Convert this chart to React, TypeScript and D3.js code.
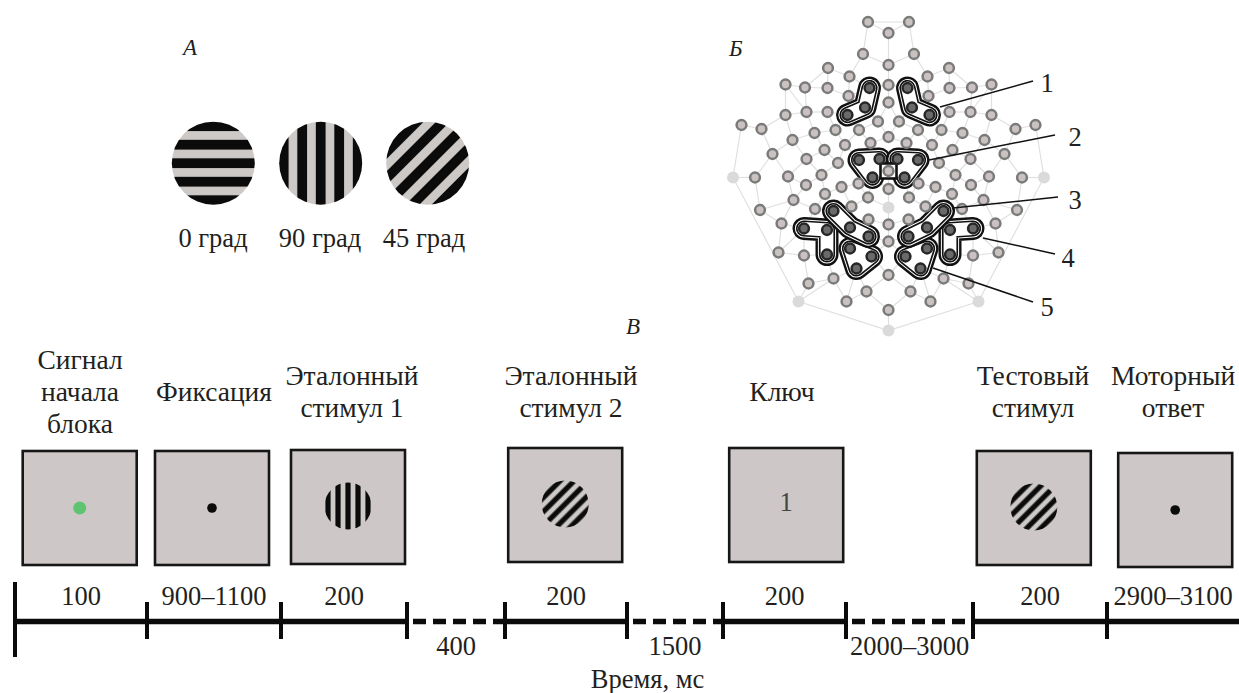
import React from 'react'
import * as d3 from 'd3'

const W = 1239
const H = 693
const FONT = 'Liberation Serif, Tinos, Times New Roman, DejaVu Serif, serif'
const INK = '#231f20'

// ---- Panel A: grating orientations
const gratingAngles = [0, 90, 45]
const gratingLabels = ['0 град', '90 град', '45 град']

// ---- Panel Б: electrode net, [dx, dy, kind] relative to the vertex electrode
// kind: n = regular, d = in ROI, l = reference/unused, s = vertex (ROI 2 centre)
const electrodesMid: [number, number, string][] = [
  [0, -174.5, 'n'], [0, -142.5, 'n'], [0, -122.5, 'n'], [0, -105, 'n'], [0, -70.5, 'n'],
  [0, -36.5, 's'], [0, -18.5, 'n'], [0, 0, 'l'], [0, 17, 'n'], [0, 34, 'n'],
  [0, 67.5, 'n'], [0, 102.5, 'n'], [0, 123, 'l'],
]
const electrodesLeft: [number, number, string][] = [
  [-20.5, -185.5, 'n'], [-25.5, -153.5, 'n'], [-60.5, -139.5, 'n'], [-39, -131, 'n'],
  [-103, -123, 'n'], [-83.5, -120, 'n'], [-61, -119.5, 'n'], [-19, -119.5, 'd'],
  [-40, -111.5, 'n'], [-103, -92.5, 'n'], [-82, -95.5, 'n'], [-61, -95.5, 'n'],
  [-23.5, -100, 'd'], [-41, -92.5, 'd'], [-10.5, -86, 'n'], [-147, -82.5, 'n'],
  [-127, -78.5, 'n'], [-74, -74.5, 'n'], [-53, -77.5, 'n'], [-29.5, -77.5, 'n'],
  [-96, -67.5, 'n'], [-116, -53.5, 'n'], [-64, -57.5, 'n'], [-43.5, -62.5, 'n'],
  [-18, -64.5, 'n'], [-82, -48.5, 'n'], [-50.5, -44.5, 'n'], [-29.5, -47.5, 'd'],
  [-9, -48.5, 'd'], [-16, -30, 'd'], [-155.5, -30, 'l'], [-133.5, -30, 'n'],
  [-100.5, -31, 'n'], [-67, -32.5, 'n'], [-47, -20.5, 'n'], [-82.5, -22.5, 'n'],
  [-30, -24, 'n'], [-63.5, -13.5, 'n'], [-20.5, -10, 'n'], [-95, -7.5, 'n'],
  [-128.5, 2.5, 'n'], [-73.5, 1.5, 'n'], [-37, -1, 'n'], [-55, 3.5, 'd'],
  [-107, 16, 'n'], [-84.5, 21, 'd'], [-61.5, 22.5, 'd'], [-38.5, 20, 'd'],
  [-20, 12, 'n'], [-20, 29, 'd'], [-110, 45, 'n'], [-84.5, 48, 'n'],
  [-61.5, 47, 'd'], [-38.5, 41, 'd'], [-17, 49, 'd'], [-32, 61, 'd'],
  [-55, 71, 'n'], [-80, 76, 'n'], [-22, 84, 'n'], [-90, 94, 'l'], [-42, 94, 'n'],
]
const electrodesRight: [number, number, string][] = [
  [20.5, -185.5, 'n'], [25.5, -153.5, 'n'], [60.5, -139.5, 'n'], [39, -131, 'n'],
  [103, -123, 'n'], [83.5, -120, 'n'], [61, -119.5, 'n'], [19, -119.5, 'd'],
  [40, -111.5, 'n'], [103, -92.5, 'n'], [82, -95.5, 'n'], [61, -95.5, 'n'],
  [23.5, -100, 'd'], [41, -92.5, 'd'], [10.5, -86, 'n'], [147, -82.5, 'n'],
  [127, -78.5, 'n'], [74, -74.5, 'n'], [53, -77.5, 'n'], [29.5, -77.5, 'n'],
  [96, -67.5, 'n'], [116, -53.5, 'n'], [64, -57.5, 'n'], [43.5, -62.5, 'n'],
  [18, -64.5, 'n'], [82, -48.5, 'n'], [50.5, -44.5, 'n'], [29.5, -47.5, 'd'],
  [9, -48.5, 'd'], [16, -30, 'd'], [155.5, -30, 'l'], [133.5, -30, 'n'],
  [100.5, -31, 'n'], [67, -32.5, 'n'], [47, -20.5, 'n'], [82.5, -22.5, 'n'],
  [30, -24, 'n'], [63.5, -13.5, 'n'], [20.5, -10, 'n'], [95, -7.5, 'n'],
  [128.5, 2.5, 'n'], [73.5, 1.5, 'n'], [37, -1, 'n'], [55, 3.5, 'd'],
  [107, 16, 'n'], [84.5, 21, 'd'], [61.5, 22.5, 'd'], [38.5, 20, 'd'],
  [20, 12, 'n'], [20, 29, 'd'], [110, 45, 'n'], [84.5, 48, 'n'],
  [61.5, 47, 'd'], [38.5, 41, 'd'], [17, 49, 'd'], [32, 61, 'd'],
  [55, 71, 'n'], [80, 76, 'n'], [22, 84, 'n'], [90, 94, 'l'], [42, 94, 'n'],
]
// outer rim of the net
const rimPoints: [number, number][] = [
  [-147, -82.5], [-155.5, -30], [-90, 94], [0, 123], [90, 94], [155.5, -30], [147, -82.5],
]
// regions of interest: electrode chains and whether the outline is closed
const rois: { pts: [number, number][]; closed: boolean }[] = [
  { pts: [[-19, -119.5], [-23.5, -100], [-41, -92.5]], closed: false },
  { pts: [[19, -119.5], [23.5, -100], [41, -92.5]], closed: false },
  { pts: [[-29.5, -47.5], [-9, -48.5], [-16, -30]], closed: true },
  { pts: [[29.5, -47.5], [9, -48.5], [16, -30]], closed: true },
  { pts: [[-84.5, 21], [-61.5, 22.5], [-61.5, 47]], closed: false },
  { pts: [[84.5, 21], [61.5, 22.5], [61.5, 47]], closed: false },
  { pts: [[-38.5, 41], [-17, 49], [-32, 61]], closed: true },
  { pts: [[38.5, 41], [17, 49], [32, 61]], closed: true },
  { pts: [[-55, 3.5], [-38.5, 20], [-20, 29]], closed: false },
  { pts: [[55, 3.5], [38.5, 20], [20, 29]], closed: false },
]
const calloutLabels = ['1', '2', '3', '4', '5']
const calloutFrom: [number, number][] = [[51.5, -100.5], [40.5, -47.5], [64.5, 0.5], [94.5, 30.5], [44.5, 60.5]]
const calloutTo: [number, number][] = [[144.5, -126.5], [166.5, -72.5], [169.5, -10.5], [166.5, 46.5], [144.5, 94.5]]
const calloutText: [number, number][] = [[158.5, -116], [186.5, -62], [186.5, 1.5], [179.5, 59.5], [158.5, 108.5]]

// ---- Panel В: trial timeline
const stageTitles = [
  ['Сигнал', 'начала', 'блока'],
  ['Фиксация'],
  ['Эталонный', 'стимул 1'],
  ['Эталонный', 'стимул 2'],
  ['Ключ'],
  ['Тестовый', 'стимул'],
  ['Моторный', 'ответ'],
]
const stageContent = ['green', 'dot', 'g90', 'g45', 'key', 'g45', 'dot']
const stageDurations = ['100', '900–1100', '200', '200', '200', '200', '2900–3100']
const gapDurations = ['400', '1500', '2000–3000']
// sequence of timeline segments: s = stimulus on screen, g = blank gap (dashed)
const segmentKinds = ['s', 's', 's', 'g', 's', 'g', 's', 'g', 's', 's']

// layout
const boxX = [79.7, 212, 348, 565.2, 786.2, 1033.8, 1175.2]
const boxTop = [451, 451, 450, 448, 448, 451, 453]
const titleX = [80, 214, 352, 571, 782, 1033, 1173]
const tickX = [15, 147, 281, 407, 505, 627, 723, 846, 973, 1107, 1239]

function Grating({ id, cx, cy, r, angle, period, dark }: any) {
  const rot = 90 - angle
  return (
    <g>
      <defs>
        <pattern id={id} patternUnits="userSpaceOnUse" width={period} height={period}
          patternTransform={`translate(${cx},${cy}) rotate(${rot})`}>
          <rect width={period} height={period} fill="#cdc9c7" />
          <rect x={0} width={dark / 2} height={period} fill="#0b0b0b" />
          <rect x={period - dark / 2} width={dark / 2} height={period} fill="#0b0b0b" />
        </pattern>
      </defs>
      <circle cx={cx} cy={cy} r={r} fill={`url(#${id})`} />
    </g>
  )
}

export default function App() {
  // head map scales
  const hx = d3.scaleLinear().domain([-160, 160]).range([728.5, 1048.5])
  const hy = d3.scaleLinear().domain([-200, 130]).range([7.5, 337.5])
  const all = [...electrodesMid, ...electrodesLeft, ...electrodesRight]
  const pts = all.map(([dx, dy]) => [hx(dx), hy(dy)] as [number, number])

  // faint net lines: each electrode to its nearest neighbours
  const linkSet = new Set<string>()
  pts.forEach((p, i) => {
    pts
      .map((q, j) => ({ j, d: Math.hypot(q[0] - p[0], q[1] - p[1]) }))
      .filter(o => o.j !== i)
      .sort((a, b) => a.d - b.d)
      .slice(0, 3)
      .forEach(o => { if (o.d < 42) linkSet.add(i < o.j ? `${i}-${o.j}` : `${o.j}-${i}`) })
  })
  const links = [...linkSet].map(s => s.split('-').map(Number))
  const line = d3.line<[number, number]>().x(d => hx(d[0])).y(d => hy(d[1]))
  const lineClosed = d3.line<[number, number]>().x(d => hx(d[0])).y(d => hy(d[1])).curve(d3.curveLinearClosed)

  const roiLayers = [
    { w: 23, c: '#111' },
    { w: 18.2, c: '#fff' },
    { w: 16.2, c: '#111' },
    { w: 12.8, c: '#fff' },
  ]

  const titleLineH = 32
  const txt = { fontFamily: FONT, fill: INK }
  const TITLE = 27.5
  const NUM = 26.5

  return (
    <svg width={W} height={H} style={{ position: 'absolute', left: 0, top: 0, background: '#fff', fontFamily: FONT }}>
      <rect width={W} height={H} fill="#fff" />

      {/* ---------- Panel A ---------- */}
      <text x={183} y={55} fontSize={23} fontStyle="italic" {...txt}>А</text>
      {gratingAngles.map((a, i) => (
        <Grating key={i} id={`gA${i}`} cx={[213.3, 320.7, 427.7][i]} cy={163.2} r={41.5}
          angle={a} period={18.5} dark={9.8} />
      ))}
      {gratingLabels.map((t, i) => (
        <text key={i} x={[213, 320, 424][i]} y={247} fontSize={NUM} textAnchor="middle" {...txt}>{t}</text>
      ))}

      {/* ---------- Panel Б ---------- */}
      <text x={729} y={56} fontSize={23} fontStyle="italic" {...txt}>Б</text>
      <g stroke="#e0e0e0" strokeWidth={1.2} fill="none">
        {links.map(([a, b], i) => (
          <line key={i} x1={pts[a][0]} y1={pts[a][1]} x2={pts[b][0]} y2={pts[b][1]} />
        ))}
        <path d={line(rimPoints) || ''} />
      </g>
      {rois.map((roi, i) => (
        <g key={i}>
          {roiLayers.map((l, k) => (
            <path key={k} d={(roi.closed ? lineClosed(roi.pts) : line(roi.pts)) || ''}
              fill={roi.closed ? l.c : 'none'} stroke={l.c} strokeWidth={l.w}
              strokeLinejoin="round" strokeLinecap="round" />
          ))}
        </g>
      ))}
      <rect x={hx(0) - 8} y={hy(-36.5) - 7.5} width={16} height={15} fill="#fff"
        stroke="#111" strokeWidth={2.6} />
      {all.map(([dx, dy, k], i) =>
        k === 'l' ? (
          <circle key={i} cx={hx(dx)} cy={hy(dy)} r={6} fill="#dadada" />
        ) : (
          <circle key={i} cx={hx(dx)} cy={hy(dy)} r={4.9}
            fill={k === 'd' ? '#6a6a6a' : '#c9c2c1'}
            stroke={k === 'd' ? '#262626' : '#7a7a7a'} strokeWidth={2.5} />
        )
      )}
      {calloutLabels.map((t, i) => (
        <g key={i}>
          <line x1={hx(calloutFrom[i][0])} y1={hy(calloutFrom[i][1])}
            x2={hx(calloutTo[i][0])} y2={hy(calloutTo[i][1])} stroke="#111" strokeWidth={1.5} />
          <text x={hx(calloutText[i][0])} y={hy(calloutText[i][1])} fontSize={NUM}
            textAnchor="middle" {...txt}>{t}</text>
        </g>
      ))}

      {/* ---------- Panel В ---------- */}
      <text x={626} y={334} fontSize={23} fontStyle="italic" {...txt}>В</text>
      {stageTitles.map((lines, i) => {
        const y0 = 401 - ((lines.length - 1) * titleLineH) / 2
        return (
          <text key={i} fontSize={TITLE} textAnchor="middle" {...txt}>
            {lines.map((l, j) => (
              <tspan key={j} x={titleX[i]} y={y0 + j * titleLineH}>{l}</tspan>
            ))}
          </text>
        )
      })}
      {stageContent.map((c, i) => {
        const cx = boxX[i]
        const cy = boxTop[i] + 57
        return (
          <g key={i}>
            <rect x={cx - 57} y={boxTop[i]} width={114} height={114} fill="#cdc8c7"
              stroke="#161616" strokeWidth={2.6} />
            {c === 'green' && <circle cx={cx} cy={cy} r={6.5} fill="#5ec46f" />}
            {c === 'dot' && <circle cx={cx} cy={cy} r={4.8} fill="#0b0b0b" />}
            {c === 'g90' && <Grating id={`gB${i}`} cx={cx} cy={cy - 1} r={23.5} angle={90} period={10} dark={5.2} />}
            {c === 'g45' && <Grating id={`gB${i}`} cx={cx} cy={cy - 1} r={23.5} angle={45} period={10} dark={5.2} />}
            {c === 'key' && (
              <text x={cx} y={cy + 6} fontSize={NUM} textAnchor="middle" fontFamily={FONT} fill="#444">1</text>
            )}
          </g>
        )
      })}

      {/* timeline */}
      {segmentKinds.map((k, i) => (
        <line key={i} x1={tickX[i]} x2={tickX[i + 1]} y1={621.5} y2={621.5} stroke="#0b0b0b"
          strokeWidth={5.6} strokeDasharray={k === 'g' ? '13 7' : undefined}
          strokeDashoffset={k === 'g' ? -6 : undefined} />
      ))}
      {tickX.slice(0, -1).map((x, i) => (
        <line key={i} x1={x} x2={x} y1={i === 0 ? 582 : 602} y2={i === 0 ? 657 : 639}
          stroke="#0b0b0b" strokeWidth={4} />
      ))}
      {(() => {
        let s = 0
        let g = 0
        return segmentKinds.map((k, i) => {
          const mx = (tickX[i] + tickX[i + 1]) / 2
          if (k === 's') {
            const t = stageDurations[s++]
            return <text key={i} x={mx} y={605} fontSize={NUM} textAnchor="middle" {...txt}>{t}</text>
          }
          const t = gapDurations[g++]
          return <text key={i} x={mx} y={655} fontSize={NUM} textAnchor="middle" {...txt}>{t}</text>
        })
      })()}
      <text x={647.5} y={688} fontSize={NUM} textAnchor="middle" {...txt}>Время, мс</text>
    </svg>
  )
}
